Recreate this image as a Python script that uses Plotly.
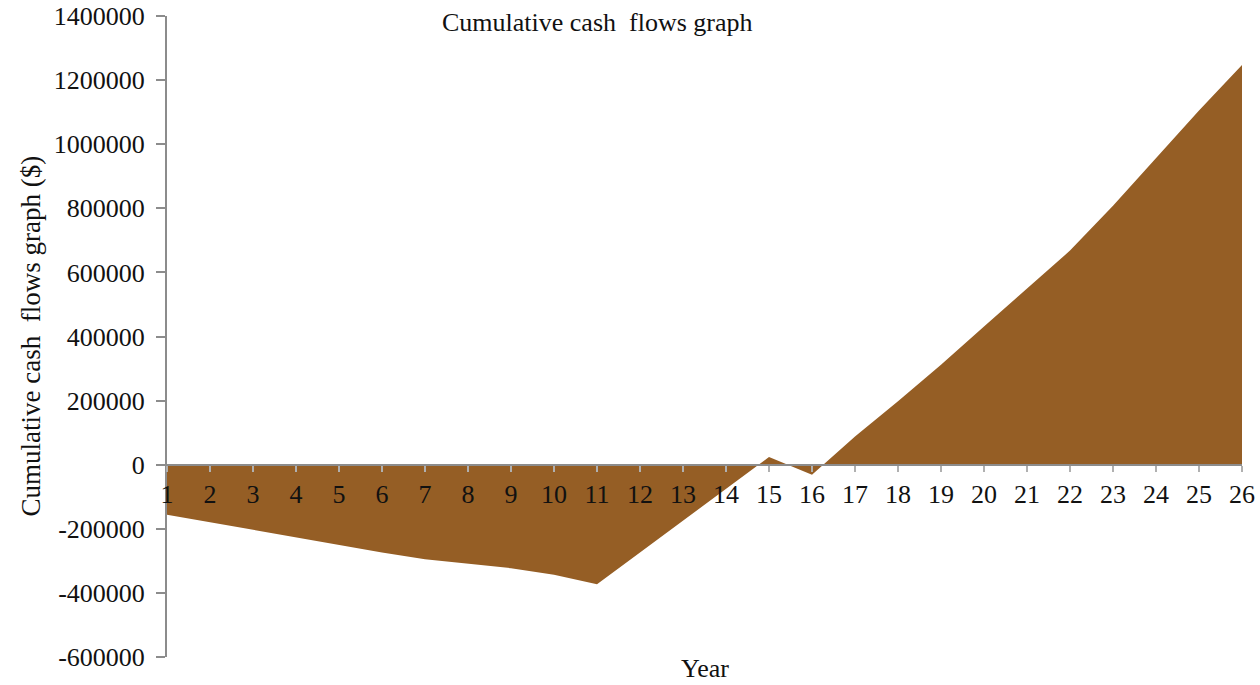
import plotly.graph_objects as go

# Project years and cumulative cash flow at the end of each year ($)
years = list(range(1, 27))
cumulative_cash = [
    -156000, -180000, -203000, -226000, -250000, -274000, -295000,
    -308000, -323000, -343000, -373000, -274000, -175000, -76000,
    24000, -31000, 88000, 198000, 312000, 431000, 551000, 668000,
    808000, 956000, 1105000, 1247000,
]

# Axis tick values and labels
y_tick_values = [-600000, -400000, -200000, 0, 200000, 400000, 600000,
                 800000, 1000000, 1200000, 1400000]
y_tick_labels = ["-600000", "-400000", "-200000", "0", "200000", "400000",
                 "600000", "800000", "1000000", "1200000", "1400000"]
x_tick_labels = [str(y) for y in years]

FILL = "#955e25"
AXIS = "#8c8c8c"
FONT = "Liberation Serif"
TEXT = "#111111"

fig = go.Figure()
fig.add_trace(go.Scatter(
    x=years,
    y=cumulative_cash,
    mode="lines",
    fill="tozeroy",
    fillcolor=FILL,
    line=dict(width=0, color=FILL),
    hoverinfo="x+y",
    showlegend=False,
))

fig.update_layout(
    width=1260,
    height=685,
    margin=dict(l=167, r=18, t=16, b=28, autoexpand=False),
    paper_bgcolor="white",
    plot_bgcolor="white",
    font=dict(family=FONT, color=TEXT, size=26),
    showlegend=False,
    xaxis=dict(
        range=[1, 26],
        tickvals=years,
        ticktext=x_tick_labels,
        anchor="free",
        position=0.3,
        automargin=False,
        showline=True,
        linecolor=AXIS,
        linewidth=2,
        ticks="outside",
        ticklen=6,
        tickwidth=1.5,
        tickcolor="#b0b0b0",
        showgrid=False,
        zeroline=False,
        tickfont=dict(family=FONT, size=26, color=TEXT),
    ),
    yaxis=dict(
        range=[-600000, 1400000],
        tickvals=y_tick_values,
        ticktext=y_tick_labels,
        automargin=False,
        showline=True,
        linecolor=AXIS,
        linewidth=2,
        ticks="outside",
        ticklen=9,
        tickwidth=1.5,
        tickcolor=AXIS,
        ticklabelstandoff=6,
        showgrid=False,
        zeroline=False,
        tickfont=dict(family=FONT, size=26, color=TEXT),
    ),
    annotations=[
        dict(
            text="Cumulative cash  flows graph",
            xref="paper", yref="paper",
            x=0.4, y=0.9906,
            xanchor="center", yanchor="middle",
            showarrow=False,
            font=dict(family=FONT, size=26, color=TEXT),
        ),
        dict(
            text="Cumulative cash  flows graph ($)",
            xref="paper", yref="paper",
            x=-0.1274, y=0.5,
            xanchor="center", yanchor="middle",
            textangle=-90,
            showarrow=False,
            font=dict(family=FONT, size=27, color=TEXT),
        ),
        dict(
            text="Year",
            xref="paper", yref="paper",
            x=0.5, y=-0.0187,
            xanchor="center", yanchor="middle",
            showarrow=False,
            font=dict(family=FONT, size=26, color=TEXT),
        ),
    ],
)

fig.write_html("out.html")
